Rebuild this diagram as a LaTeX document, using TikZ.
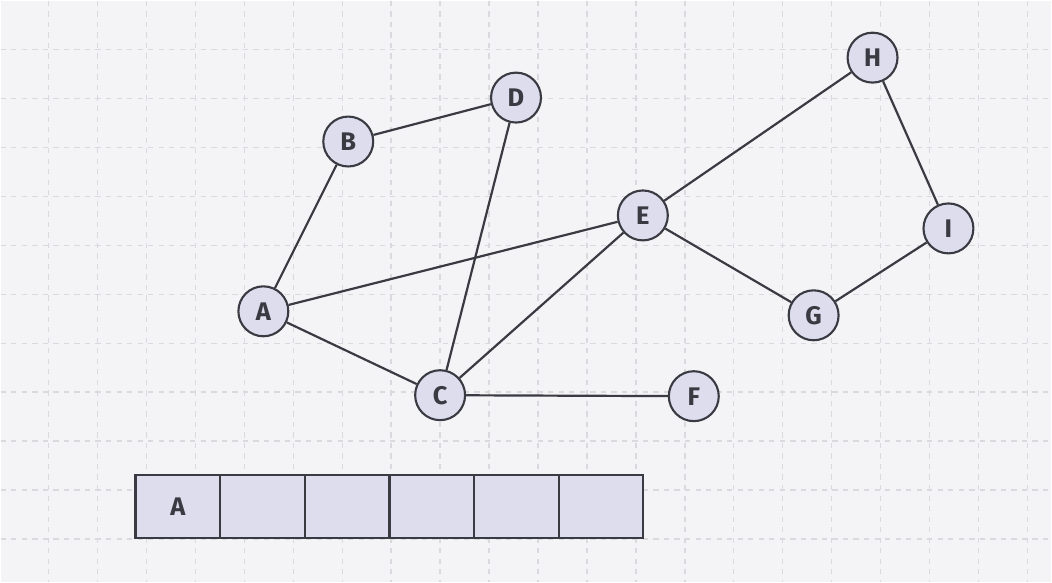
\documentclass[tikz,border=0pt]{standalone}
\usepackage{fontspec}
\setmainfont{Fira Sans}
\usepackage{xcolor}
\definecolor{paper}{HTML}{F4F4F7}
\definecolor{gridgray}{HTML}{D9D9DE}
\definecolor{nodefill}{HTML}{DDDDEE}
\definecolor{inkgray}{HTML}{3A3A42}

\begin{document}
\begin{tikzpicture}[x=0.02cm, y=-0.02cm,
    roundnode/.style={circle, draw=inkgray, fill=nodefill, line width=1.2pt, inner sep=0pt, minimum size=1cm, text=inkgray, font=\fontsize{14.5}{17}\selectfont\bfseries},
    cellbox/.style={rectangle, draw=inkgray, fill=nodefill, line width=1.2pt, inner sep=0pt, minimum width=1.695cm, minimum height=1.26cm, text=inkgray, font=\fontsize{14.5}{17}\selectfont\bfseries},
    gridline/.style={gridgray, line width=0.8pt, dash pattern=on 3pt off 3pt}]
   	\fill[paper] (0,0) rectangle (1052,582);
   	\foreach \k in {1,...,21}
       		\draw[gridline] (49*\k-1,0) -- (49*\k-1,582);
   	\foreach \k in {1,...,11}
       		\draw[gridline] (0,49*\k) -- (1052,49*\k);
   	\foreach \n/\x/\y in {A/263/311, B/348/141, D/516/97, E/643/215, C/440/395, F/694/396, G/814/315, H/873/57, I/949/228}
       		\node[roundnode] at (\x,\y) (\n) {\n};
        	   	\draw[-, inkgray, line width=1.25pt] (A) -- (B);
            	\draw[-, inkgray, line width=1.25pt] (B) -- (D);
            	\draw[-, inkgray, line width=1.25pt] (D) -- (C);
            	\draw[-, inkgray, line width=1.25pt] (A) -- (E);
            	\draw[-, inkgray, line width=1.25pt] (A) -- (C);
		\draw[-, inkgray, line width=1.25pt] (C) -- (E);
		\draw[-, inkgray, line width=1.25pt] (C) -- (F);
		\draw[-, inkgray, line width=1.25pt] (E) -- (H);
		\draw[-, inkgray, line width=1.25pt] (E) -- (G);
		\draw[-, inkgray, line width=1.25pt] (H) -- (I);
		\draw[-, inkgray, line width=1.25pt] (I) -- (G);
   	\foreach \i/\t in {1/A, 2/, 3/, 4/, 5/, 6/}
       		\node[cellbox] at (135+84.75*\i-42.375,506.5) (q\i) {\t};
\end{tikzpicture}
\end{document}
